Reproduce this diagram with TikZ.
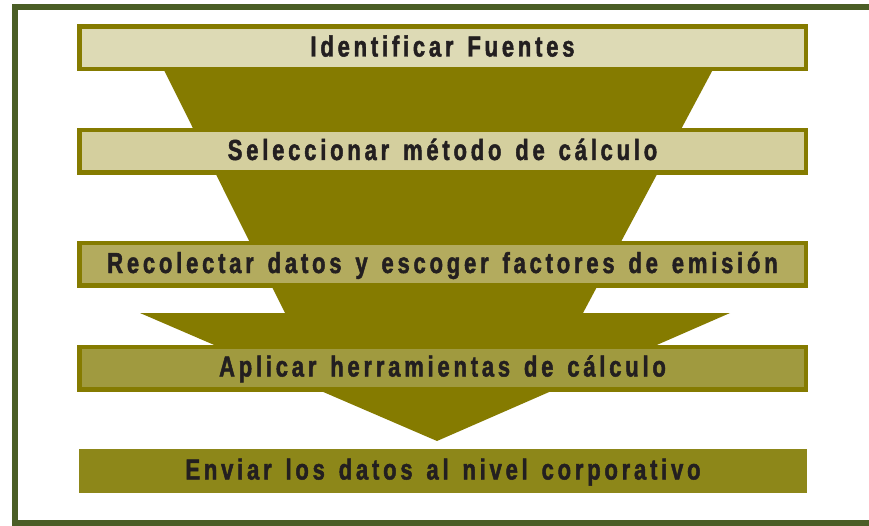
\documentclass[tikz,border=0pt]{standalone}
\usepackage{fontspec}
\setmainfont{Liberation Sans}[FakeStretch=0.76, LetterSpace=13, FakeBold=1.6, WordSpace=1.4]
\usetikzlibrary{positioning}
\definecolor{marco}{HTML}{4B5E26}
\definecolor{oliva}{HTML}{857B00}
\definecolor{texto}{HTML}{231F20}
\definecolor{pasoA}{HTML}{DDDAB5}
\definecolor{pasoB}{HTML}{D4CF9E}
\definecolor{pasoC}{HTML}{B3AB5E}
\definecolor{pasoD}{HTML}{A09A3F}
\definecolor{pasoE}{HTML}{8D8719}
\tikzset{
  paso/.style={draw=oliva, line width=4.5pt, minimum width=726.5pt, minimum height=42.5pt,
    inner sep=0pt, text height=20pt, text depth=3pt, text=texto,
    font=\bfseries\fontsize{29}{29}\selectfont},
  final/.style={paso, draw=none, minimum width=728pt, minimum height=44pt}
}
\begin{document}
\begin{tikzpicture}[x=1pt, y=-1pt]
        \useasboundingbox (0,0) rectangle (869,526);
        \fill[white] (0,0) rectangle (869,526);
        % marco exterior
        \draw[marco, line width=6pt] (15,7.5) -- (876,7.5) -- (876,523) -- (15,523) -- cycle;
        % embudo y flecha
        \fill[oliva] (159,60) -- (718,60) -- (583,313) -- (730,313) -- (437,441)
            -- (140,313) -- (285,313) -- cycle;
        % pasos
        \node[paso, fill=pasoA] (fuentes) at (442.5,48) {Identificar Fuentes};
        \node[paso, fill=pasoB] (metodo) at (442.5,151.5) {Seleccionar método de cálculo};
        \node[paso, fill=pasoC] (datos) at (442.5,264.5) {Recolectar datos y escoger factores de emisión};
        \node[paso, fill=pasoD] (herramientas) at (442.5,368) {Aplicar herramientas de cálculo};
        \node[final, fill=pasoE] (envio) at (443,471) {Enviar los datos al nivel corporativo};
    \end{tikzpicture}
\end{document}
